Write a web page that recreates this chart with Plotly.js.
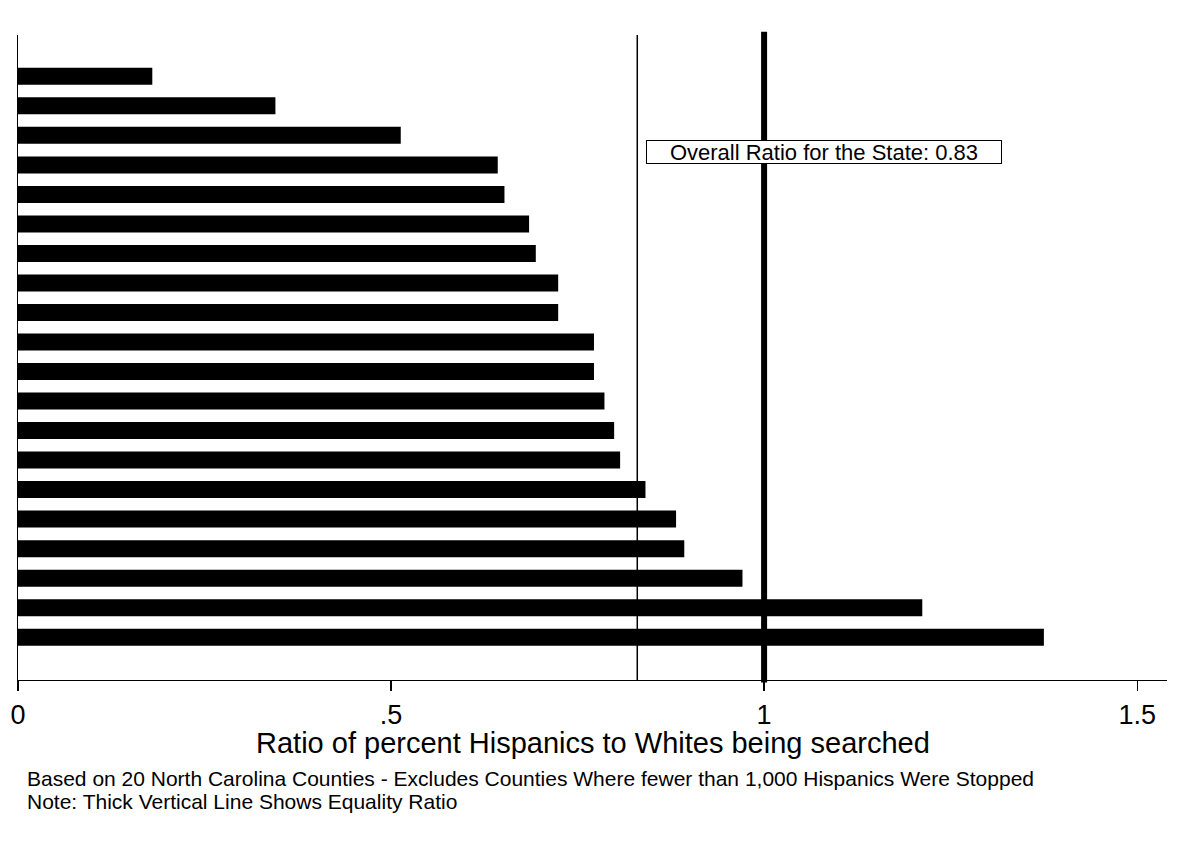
<!DOCTYPE html>
<html>
<head>
<meta charset="utf-8">
<script src="https://cdn.plot.ly/plotly-3.0.1.min.js"></script>
<style>html,body{margin:0;padding:0;background:#fff;}#chart{width:1191px;height:848px;}</style>
</head>
<body>
<div id="chart"></div>
<script>
// Ratio values per county, top to bottom
const ranks = [1,2,3,4,5,6,7,8,9,10,11,12,13,14,15,16,17,18,19,20];
const ratios = [0.180,0.345,0.513,0.643,0.652,0.685,0.694,0.724,0.724,0.772,0.772,0.786,0.799,0.807,0.841,0.882,0.893,0.971,1.212,1.375];
const overallRatio = 0.83;
const equalityRatio = 1;
const tickVals = [0, 0.5, 1, 1.5];
const tickText = ["0", ".5", "1", "1.5"];
const xTitle = "Ratio of percent Hispanics to Whites being searched";
const note1 = "Based on 20 North Carolina Counties - Excludes Counties Where fewer than 1,000 Hispanics Were Stopped";
const note2 = "Note: Thick Vertical Line Shows Equality Ratio";
const overallLabel = "Overall Ratio for the State: " + overallRatio.toFixed(2);

const font = "Liberation Sans, Arial, sans-serif";

const trace = {
  type: "bar",
  orientation: "h",
  x: ratios,
  y: ranks,
  width: 0.576,
  marker: {color: "#000000", line: {width: 0}},
  hoverinfo: "x"
};

const layout = {
  width: 1191, height: 848,
  margin: {l: 18, r: 24, t: 35, b: 168},
  paper_bgcolor: "#ffffff", plot_bgcolor: "#ffffff",
  showlegend: false,
  font: {family: font, color: "#000"},
  xaxis: {
    range: [0, 1.540],
    tickvals: tickVals, ticktext: tickText,
    ticks: "outside", ticklen: 10, tickwidth: 1.2, tickcolor: "#000",
    tickfont: {size: 27, family: font, color: "#000"},
    showline: true, linecolor: "#000", linewidth: 1.2,
    showgrid: false, zeroline: false
  },
  yaxis: {
    range: [21.45, -0.40],
    showticklabels: false, ticks: "",
    showline: true, linecolor: "#000", linewidth: 1.2,
    showgrid: false, zeroline: false
  },
  shapes: [
    {type: "line", xref: "x", yref: "paper", x0: overallRatio, x1: overallRatio, y0: 0, y1: 1,
     line: {color: "#000", width: 1.5}},
    {type: "line", xref: "x", yref: "paper", x0: equalityRatio, x1: equalityRatio, y0: -0.004, y1: 1.005,
     line: {color: "#000", width: 6}}
  ],
  annotations: [
    {xref: "x", yref: "paper", x: 0.842, y: 0.8186, xanchor: "left", yanchor: "middle",
     text: overallLabel, showarrow: false, font: {size: 22, family: font, color: "#000"},
     bgcolor: "#ffffff", bordercolor: "#000", borderwidth: 1, borderpad: 0,
     width: 354, height: 22, align: "center"},
    {xref: "paper", yref: "paper", x: 0.5, y: -0.0977, xanchor: "center", yanchor: "middle",
     text: xTitle, showarrow: false, font: {size: 29, family: font, color: "#000"}},
    {xref: "paper", yref: "paper", x: 0.006, y: -0.152, xanchor: "left", yanchor: "middle",
     text: note1, showarrow: false, font: {size: 21, family: font, color: "#000"}},
    {xref: "paper", yref: "paper", x: 0.006, y: -0.189, xanchor: "left", yanchor: "middle",
     text: note2, showarrow: false, font: {size: 21, family: font, color: "#000"}}
  ]
};

Plotly.newPlot("chart", [trace], layout, {displayModeBar: false, staticPlot: true});
</script>
</body>
</html>
